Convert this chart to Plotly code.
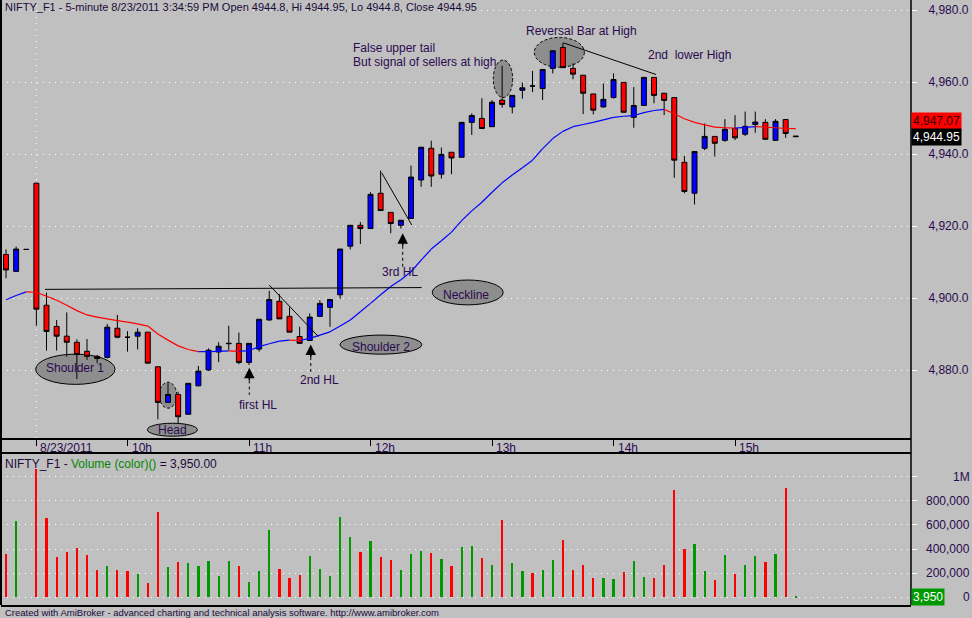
import plotly.graph_objects as go

# 5-minute bars: last 3 bars of 8/22, then 8/23/2011 from 9:15 to 15:30
opens = [4912.1, 4907.4, 4913.5, 4931.9, 4898.0, 4892.1, 4889.4, 4887.7, 4885.2, 4883.8,
         4883.5, 4891.6, 4889.1, 4889.4, 4890.5, 4880.9, 4871.0, 4873.2, 4867.7, 4875.6,
         4880.0, 4885.0, 4887.3, 4887.4, 4882.1, 4885.8, 4893.9, 4899.1, 4894.9, 4889.3,
         4888.2, 4894.9, 4897.4, 4900.9, 4914.4, 4920.2, 4919.3, 4929.1, 4923.8, 4920.2,
         4922.1, 4932.8, 4941.6, 4934.4, 4940.5, 4939.1, 4948.8, 4949.9, 4947.6, 4955.0,
         4953.1, 4957.7, 4958.9, 4958.2, 4963.8, 4969.6, 4963.8, 4961.9, 4956.7, 4953.1,
         4955.7, 4959.9, 4950.2, 4953.5, 4961.3, 4956.9, 4955.7, 4937.7, 4929.1, 4941.6,
         4944.9, 4943.8, 4947.1, 4945.5, 4948.2, 4948.8, 4943.8, 4949.6, 4944.8]
highs = [4913.5, 4914.3, 4913.5, 4932.0, 4901.5, 4893.9, 4896.0, 4888.5, 4888.6, 4884.2,
         4892.8, 4895.3, 4890.8, 4891.6, 4890.5, 4880.9, 4876.3, 4874.0, 4876.3, 4881.1,
         4886.0, 4887.7, 4892.3, 4890.4, 4887.4, 4894.1, 4902.0, 4901.1, 4897.4, 4892.0,
         4895.7, 4899.4, 4899.6, 4913.6, 4920.2, 4921.1, 4929.4, 4935.4, 4923.8, 4921.6,
         4936.8, 4941.9, 4943.7, 4941.8, 4940.5, 4948.8, 4951.3, 4955.5, 4955.0, 4964.5,
         4956.3, 4959.9, 4963.1, 4963.5, 4968.7, 4970.9, 4965.2, 4961.9, 4956.7, 4959.6,
         4962.4, 4959.9, 4958.6, 4961.3, 4961.3, 4956.9, 4955.7, 4939.5, 4940.7, 4948.5,
         4944.9, 4949.7, 4950.8, 4951.8, 4951.8, 4949.7, 4949.7, 4949.6, 4944.95]
lows = [4905.5, 4907.4, 4913.5, 4892.3, 4885.4, 4885.4, 4883.7, 4877.5, 4882.8, 4881.9,
        4883.2, 4888.8, 4885.1, 4885.7, 4881.9, 4866.3, 4871.0, 4865.2, 4867.7, 4875.5,
        4879.8, 4882.2, 4885.6, 4881.6, 4881.4, 4885.1, 4893.7, 4894.2, 4890.5, 4887.4,
        4888.2, 4894.9, 4892.0, 4899.8, 4913.5, 4915.0, 4919.3, 4924.3, 4918.0, 4919.3,
        4922.1, 4930.9, 4930.9, 4933.2, 4934.4, 4939.1, 4945.3, 4947.0, 4947.6, 4952.9,
        4951.3, 4955.4, 4957.2, 4955.0, 4962.4, 4964.0, 4960.8, 4951.1, 4951.0, 4952.9,
        4955.4, 4951.6, 4947.3, 4953.5, 4954.1, 4950.8, 4933.4, 4929.1, 4926.0, 4941.1,
        4939.3, 4943.4, 4943.9, 4945.0, 4945.9, 4944.1, 4943.8, 4944.5, 4944.8]
closes = [4907.8, 4913.6, 4913.5, 4896.9, 4890.7, 4889.4, 4887.7, 4884.3, 4883.8, 4883.2,
          4891.9, 4889.1, 4889.1, 4890.5, 4881.9, 4871.0, 4873.2, 4867.0, 4876.3, 4879.7,
          4885.5, 4886.6, 4887.4, 4882.1, 4887.4, 4894.1, 4899.6, 4894.2, 4890.5, 4887.4,
          4894.7, 4898.5, 4899.6, 4913.6, 4920.2, 4919.3, 4928.8, 4924.3, 4920.7, 4921.6,
          4933.6, 4941.9, 4933.9, 4939.9, 4938.9, 4948.8, 4950.7, 4947.1, 4954.4, 4953.8,
          4956.3, 4958.4, 4958.9, 4963.5, 4968.7, 4964.0, 4962.2, 4956.9, 4952.2, 4955.2,
          4960.7, 4951.6, 4953.5, 4961.3, 4956.3, 4954.9, 4938.3, 4929.6, 4940.7, 4944.9,
          4943.0, 4946.9, 4944.5, 4947.7, 4948.9, 4944.1, 4949.1, 4945.7, 4944.95]
volume = [361000, 636000, 0, 1061000, 661000, 336000, 378000, 411000, 353000, 228000,
          261000, 228000, 219000, 194000, 119000, 711000, 253000, 294000, 286000, 261000,
          303000, 178000, 303000, 261000, 128000, 219000, 561000, 236000, 161000, 186000,
          344000, 236000, 178000, 669000, 503000, 378000, 469000, 336000, 311000, 228000,
          361000, 386000, 369000, 319000, 261000, 419000, 428000, 328000, 269000, 644000,
          286000, 219000, 203000, 228000, 311000, 478000, 228000, 269000, 161000, 161000,
          153000, 211000, 303000, 169000, 161000, 269000, 894000, 403000, 444000, 219000,
          144000, 353000, 194000, 269000, 344000, 294000, 361000, 903000, 3950]
# moving average as drawn on the chart
ma = [4899.5, 4900.7, 4901.7, 4901.6, 4900.5, 4899.4, 4898.0, 4896.5, 4895.3, 4894.7,
      4894.2, 4893.7, 4893.3, 4892.8, 4892.2, 4890.0, 4888.3, 4886.7, 4885.7, 4885.1,
      4885.1, 4885.2, 4885.3, 4885.2, 4885.4, 4886.5, 4887.3, 4888.0, 4888.3, 4888.2,
      4888.8, 4889.7, 4890.6, 4892.2, 4893.9, 4896.2, 4898.5, 4900.9, 4903.2, 4905.1,
      4907.3, 4910.5, 4913.6, 4915.9, 4918.3, 4921.5, 4924.2, 4926.6, 4929.4, 4932.0,
      4934.2, 4936.2, 4938.3, 4941.5, 4944.3, 4946.3, 4947.6, 4948.2, 4948.8, 4949.5,
      4950.2, 4950.5, 4950.7, 4951.5, 4952.1, 4952.4, 4951.2, 4949.8, 4948.8, 4948.1,
      4947.5, 4947.3, 4947.2, 4947.4, 4947.6, 4947.5, 4947.3, 4947.1, 4947.07]

hour_pos = [3, 12, 24, 36, 48, 60, 72]
hour_labels = ["8/23/2011", "10h", "11h", "12h", "13h", "14h", "15h"]
price_ticks = [4880, 4900, 4920, 4940, 4960, 4980]
vol_ticks = [0, 200000, 400000, 600000, 800000, 1000000]
vol_labels = ["0", "200,000", "400,000", "600,000", "800,000", "1M"]

BG = "#C0C0C0"
TXT = "#2a0a50"
FONT = "Liberation Sans, Arial, sans-serif"
x = list(range(len(closes)))

fig = go.Figure()

# MA line, blue while rising, red while falling
seg = {"#0000FF": ([], []), "#FF0000": ([], [])}
for i in range(1, len(ma)):
    col = "#0000FF" if ma[i] >= ma[i - 1] else "#FF0000"
    seg[col][0].extend([i - 1, i, None])
    seg[col][1].extend([ma[i - 1], ma[i], None])
for col, (sx, sy) in seg.items():
    fig.add_trace(go.Scatter(x=sx, y=sy, mode="lines", line=dict(color=col, width=1.2),
                             showlegend=False, hoverinfo="skip"))

fig.add_trace(go.Candlestick(
    x=x, open=opens, high=highs, low=lows, close=closes,
    increasing=dict(fillcolor="#0000FF", line=dict(color="black", width=1)),
    decreasing=dict(fillcolor="#FF0000", line=dict(color="black", width=1)),
    whiskerwidth=0, showlegend=False))

vol_colors = ["#009900" if c > o else "#FF0000" for o, c in zip(opens, closes)]
fig.add_trace(go.Bar(x=x, y=volume, marker=dict(color=vol_colors, line=dict(width=0)),
                     width=0.22, xaxis="x2", yaxis="y2", showlegend=False))

shapes = []
annots = []


def ellipse(x0, x1, y0, y1, dash="solid"):
    shapes.append(dict(type="circle", xref="x", yref="y", x0=x0, x1=x1, y0=y0, y1=y1,
                       fillcolor="#8e8e8e", line=dict(color="black", width=1, dash=dash),
                       layer="between"))


def seg_line(x0, y0, x1, y1, dash="solid"):
    shapes.append(dict(type="line", xref="x", yref="y", x0=x0, y0=y0, x1=x1, y1=y1,
                       line=dict(color="black", width=1, dash=dash)))


def label(txt, xx, yy, anchor="center"):
    annots.append(dict(x=xx, y=yy, xref="x", yref="y", text=txt, showarrow=False,
                       xanchor=anchor, font=dict(size=12, color=TXT, family=FONT)))


def hl_arrow(xx, tip, end):
    annots.append(dict(x=xx, y=tip, xref="x", yref="y", text="", showarrow=True,
                       ax=0, ay=14, arrowhead=2, arrowsize=1.4, arrowwidth=1.5,
                       arrowcolor="black", standoff=0))
    seg_line(xx, tip - 3.5, xx, end, dash="3px,3px")


# ellipses
ellipse(2.93, 10.77, 4876.0, 4884.4)
ellipse(13.96, 18.9, 4861.6, 4865.2)
ellipse(15.14, 16.86, 4869.4, 4876.6, dash="3px,2px")
ellipse(42.1, 49.1, 4898.1, 4905.0)
ellipse(32.99, 41.06, 4884.4, 4889.7)
ellipse(48.13, 50.04, 4955.7, 4966.1, dash="3px,2px")
ellipse(52.18, 57.12, 4964.1, 4972.4, dash="3px,2px")

# trend lines
seg_line(3.85, 4902.4, 41.05, 4902.9)
seg_line(26.0, 4903.6, 30.85, 4889.3)
seg_line(37.1, 4934.8, 40.07, 4920.3)
seg_line(55.05, 4970.9, 64.2, 4962.1)

# day separator
shapes.append(dict(type="line", xref="x", yref="y domain", x0=3, x1=3, y0=0, y1=1,
                   line=dict(color="white", width=1, dash="1px,5px"), layer="below"))

# higher-low arrows
hl_arrow(24.03, 4880.6, 4873.1)
hl_arrow(30.1, 4887.1, 4879.5)
hl_arrow(39.18, 4918.0, 4908.7)

label("Shoulder 1", 6.8, 4880.5)
label("Head", 16.4, 4863.2)
label("Neckline", 45.4, 4900.8)
label("Shoulder 2", 37.0, 4886.5)
label("first HL", 24.9, 4870.3)
label("2nd HL", 31.0, 4877.2)
label("3rd HL", 38.9, 4907.3)
label("False upper tail", 34.1, 4969.4, "left")
label("But signal of sellers at high", 34.1, 4965.6, "left")
label("Reversal Bar at High", 51.2, 4974.3, "left")
label("2nd\u00a0 lower High", 63.2, 4967.5, "left")

# headers
annots.append(dict(xref="paper", yref="paper", x=0, y=1, xanchor="left", yanchor="top",
                   xshift=2, yshift=1, showarrow=False,
                   text="NIFTY_F1 - 5-minute 8/23/2011 3:34:59 PM Open 4944.8, Hi 4944.95, "
                        "Lo 4944.8, Close 4944.95",
                   font=dict(size=11, color="#1a0a3a", family=FONT)))
annots.append(dict(xref="paper", yref="y2 domain", x=0, y=1, xanchor="left", yanchor="top",
                   xshift=2, yshift=-1, showarrow=False,
                   text="NIFTY_F1 - <span style='color:#008800'>Volume (color)()</span> = 3,950.00",
                   font=dict(size=12, color="#1a0a3a", family=FONT)))
annots.append(dict(xref="paper", yref="paper", x=0, y=0, xanchor="left", yanchor="top",
                   xshift=2, yshift=0, showarrow=False,
                   text="Created with AmiBroker - advanced charting and technical analysis "
                        "software. http://www.amibroker.com",
                   font=dict(size=9.5, color="#1a0a3a", family=FONT)))

# time labels
for p, t in zip(hour_pos, hour_labels):
    annots.append(dict(x=p, xref="x", yref="y domain", y=0, xanchor="left", yanchor="top",
                       xshift=2, yshift=-1, text=t, showarrow=False,
                       font=dict(size=12, color=TXT, family=FONT)))

# volume axis labels
for v, t in zip(vol_ticks, vol_labels):
    annots.append(dict(xref="paper", x=1, yref="y2", y=v, xanchor="right", xshift=61,
                       text=t, showarrow=False, font=dict(size=12, color=TXT, family=FONT)))

# last value badges
annots.append(dict(xref="paper", x=1, yref="y", y=ma[-1], xanchor="left", yshift=8,
                   text="4,947.07", showarrow=False, bgcolor="#FF0000", borderpad=1,
                   font=dict(size=12, color="#300000", family=FONT)))
annots.append(dict(xref="paper", x=1, yref="y", y=closes[-1], xanchor="left", yshift=-1,
                   text="4,944.95", showarrow=False, bgcolor="#000000", borderpad=1,
                   font=dict(size=12, color="white", family=FONT)))
annots.append(dict(xref="paper", x=1, yref="y2", y=0, xanchor="left", yshift=0,
                   text="3,950", showarrow=False, bgcolor="#009900", borderpad=1,
                   font=dict(size=12, color="white", family=FONT)))

# panel borders
shapes.append(dict(type="line", xref="paper", yref="paper", x0=1, x1=1, y0=0, y1=1,
                   line=dict(color="black", width=1.5)))
shapes.append(dict(type="line", xref="paper", yref="paper", x0=0, x1=0, y0=0, y1=1,
                   line=dict(color="black", width=2)))

xrange = [-0.494, 89.38]
fig.update_layout(
    width=972, height=618,
    margin=dict(l=1, r=61, t=0, b=13),
    paper_bgcolor=BG, plot_bgcolor=BG,
    font=dict(family=FONT, size=12, color=TXT),
    showlegend=False, bargap=0,
    shapes=shapes, annotations=annots,
    xaxis=dict(domain=[0, 1], range=xrange, anchor="y", rangeslider=dict(visible=False),
               showgrid=False, zeroline=False, tickvals=hour_pos, showticklabels=False,
               ticks="outside", ticklen=6, tickcolor="black", showline=True,
               linecolor="black", linewidth=1.5),
    yaxis=dict(domain=[0.276, 1], range=[4861.1, 4982.8], side="right", anchor="x",
               tickvals=price_ticks, tickformat=",.1f", ticks="outside", ticklen=5,
               ticklabelstandoff=9,
               tickcolor="white", showgrid=True, gridcolor="white", griddash="1px,5px",
               gridwidth=1, zeroline=False, tickfont=dict(size=12, color=TXT)),
    xaxis2=dict(domain=[0, 1], range=xrange, anchor="y2", matches="x", showgrid=False,
                zeroline=False, showticklabels=False, ticks="", showline=True,
                mirror=True, linecolor="black", linewidth=1.5),
    yaxis2=dict(domain=[0, 0.2496], range=[-64000, 1189000], side="right", anchor="x2",
                tickvals=vol_ticks, showticklabels=False, ticks="outside", ticklen=5,
                tickcolor="white", showgrid=True, gridcolor="white", griddash="1px,5px",
                gridwidth=1, zeroline=False),
)

fig.write_html("out.html", config={"displayModeBar": False},
               post_script="document.body.style.margin='0px';"
                           "document.body.style.overflow='hidden';")
